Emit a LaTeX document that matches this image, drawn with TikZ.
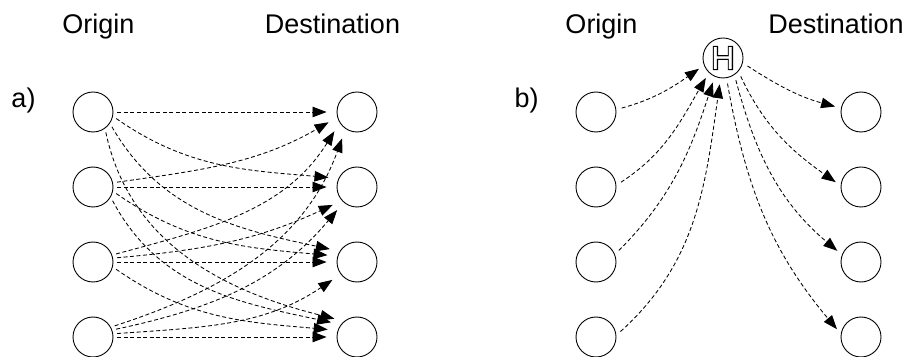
\documentclass[tikz,border=0pt]{standalone}
\usepackage{fontspec}
\setmainfont{Liberation Sans}
% thick copy of the hub letter, drawn under a plain white copy to give a hollow letter
\newfontfamily\hubfat{Liberation Sans}[FakeBold=7]
\newfontfamily\hubthin{Liberation Sans}
\usetikzlibrary{arrows.meta}
\newcommand{\hollowH}{%
  \fontsize{32}{32}\selectfont
  \makebox[0pt]{\hubfat H}\makebox[0pt]{\color{white}\hubthin H}}
\begin{document}
\begin{tikzpicture}[x=1pt,y=1pt,
  place/.style={circle,draw,line width=0.9pt,minimum size=40pt,inner sep=0pt},
  caption/.style={font=\fontsize{27}{30}\selectfont,anchor=base,inner sep=0pt},
  tip/.tip={Triangle[length=14pt,width=10.5pt]},
  flow/.style={dash pattern=on 4pt off 2.5pt,line width=0.85pt,-tip},
  flowL/.style={flow,shorten <=4pt,shorten >=10pt},
  flowR/.style={flow,shorten <=5.5pt,shorten >=6pt}]
\useasboundingbox (0,0) rectangle (910,356);

% ---------- a) direct connections ----------
\node[caption] (ta) at (98.5,322.5) {Origin};
\node[caption] (tb) at (332.5,322.5) {Destination};
\node[caption] (la) at (23.5,248) {a)};

\foreach \i/\y in {1/244,2/169,3/94,4/19}{
  \node[place] (o\i) at (93,\y) {};
  \node[place] (d\i) at (357,\y) {};
}

% same-row links
\foreach \i in {1,2,3,4}
  \draw[flowL] (o\i.0) -- (d\i.180);

% downward links
\draw[flowL] (o1.-12) to[out=-35,in=175] (d2.155);
\draw[flowL] (o1.-34) to[out=-60,in=168] (d3.148);
\draw[flowL] (o1.-54) to[out=-78,in=166] (d4.129);
\draw[flowL] (o2.-12) to[out=-35,in=175] (d3.163);
\draw[flowL] (o2.-30) to[out=-62,in=168] (d4.142);
\draw[flowL] (o3.-14) to[out=-35,in=175] (d4.161);

% upward links
\draw[flowL] (o2.12) to[out=8,in=210] (d1.195);
\draw[flowL] (o3.20) to[out=15,in=238] (d1.212);
\draw[flowL] (o3.11) to[out=5,in=205] (d2.222);
\draw[flowL] (o4.29) to[out=18,in=250] (d1.236);
\draw[flowL] (o4.20) to[out=12,in=230] (d2.229);
\draw[flowL] (o4.9) to[out=4,in=214] (d3.217);

% ---------- b) connections through a hub ----------
\node[caption] (tc) at (601.5,322.5) {Origin};
\node[caption] (td) at (836,322.5) {Destination};
\node[caption] (lb) at (526.5,248) {b)};

\foreach \i/\y in {1/244,2/169,3/94,4/19}{
  \node[place] (p\i) at (596,\y) {};
  \node[place] (q\i) at (861,\y) {};
}
\node[place] (hub) at (723,298) {};
\node (hubletter) at (hub.center) {\hollowH};

\draw[flowR] (p1.7)  to[out=15,in=215] (hub.201);
\draw[flowR] (p2.5)  to[out=33,in=240] (hub.226);
\draw[flowR] (p3.22) to[out=45,in=252] (hub.246);
\draw[flowR] (p4.5)  to[out=42,in=262] (hub.263);

\draw[flowR] (hub.-14) to[out=-33,in=165] (q1.169);
\draw[flowR] (hub.-41) to[out=-65,in=145] (q2.176);
\draw[flowR] (hub.-56) to[out=-75,in=140] (q3.159);
\draw[flowR] (hub.-80) to[out=-80,in=130] (q4.171);
\end{tikzpicture}
\end{document}
